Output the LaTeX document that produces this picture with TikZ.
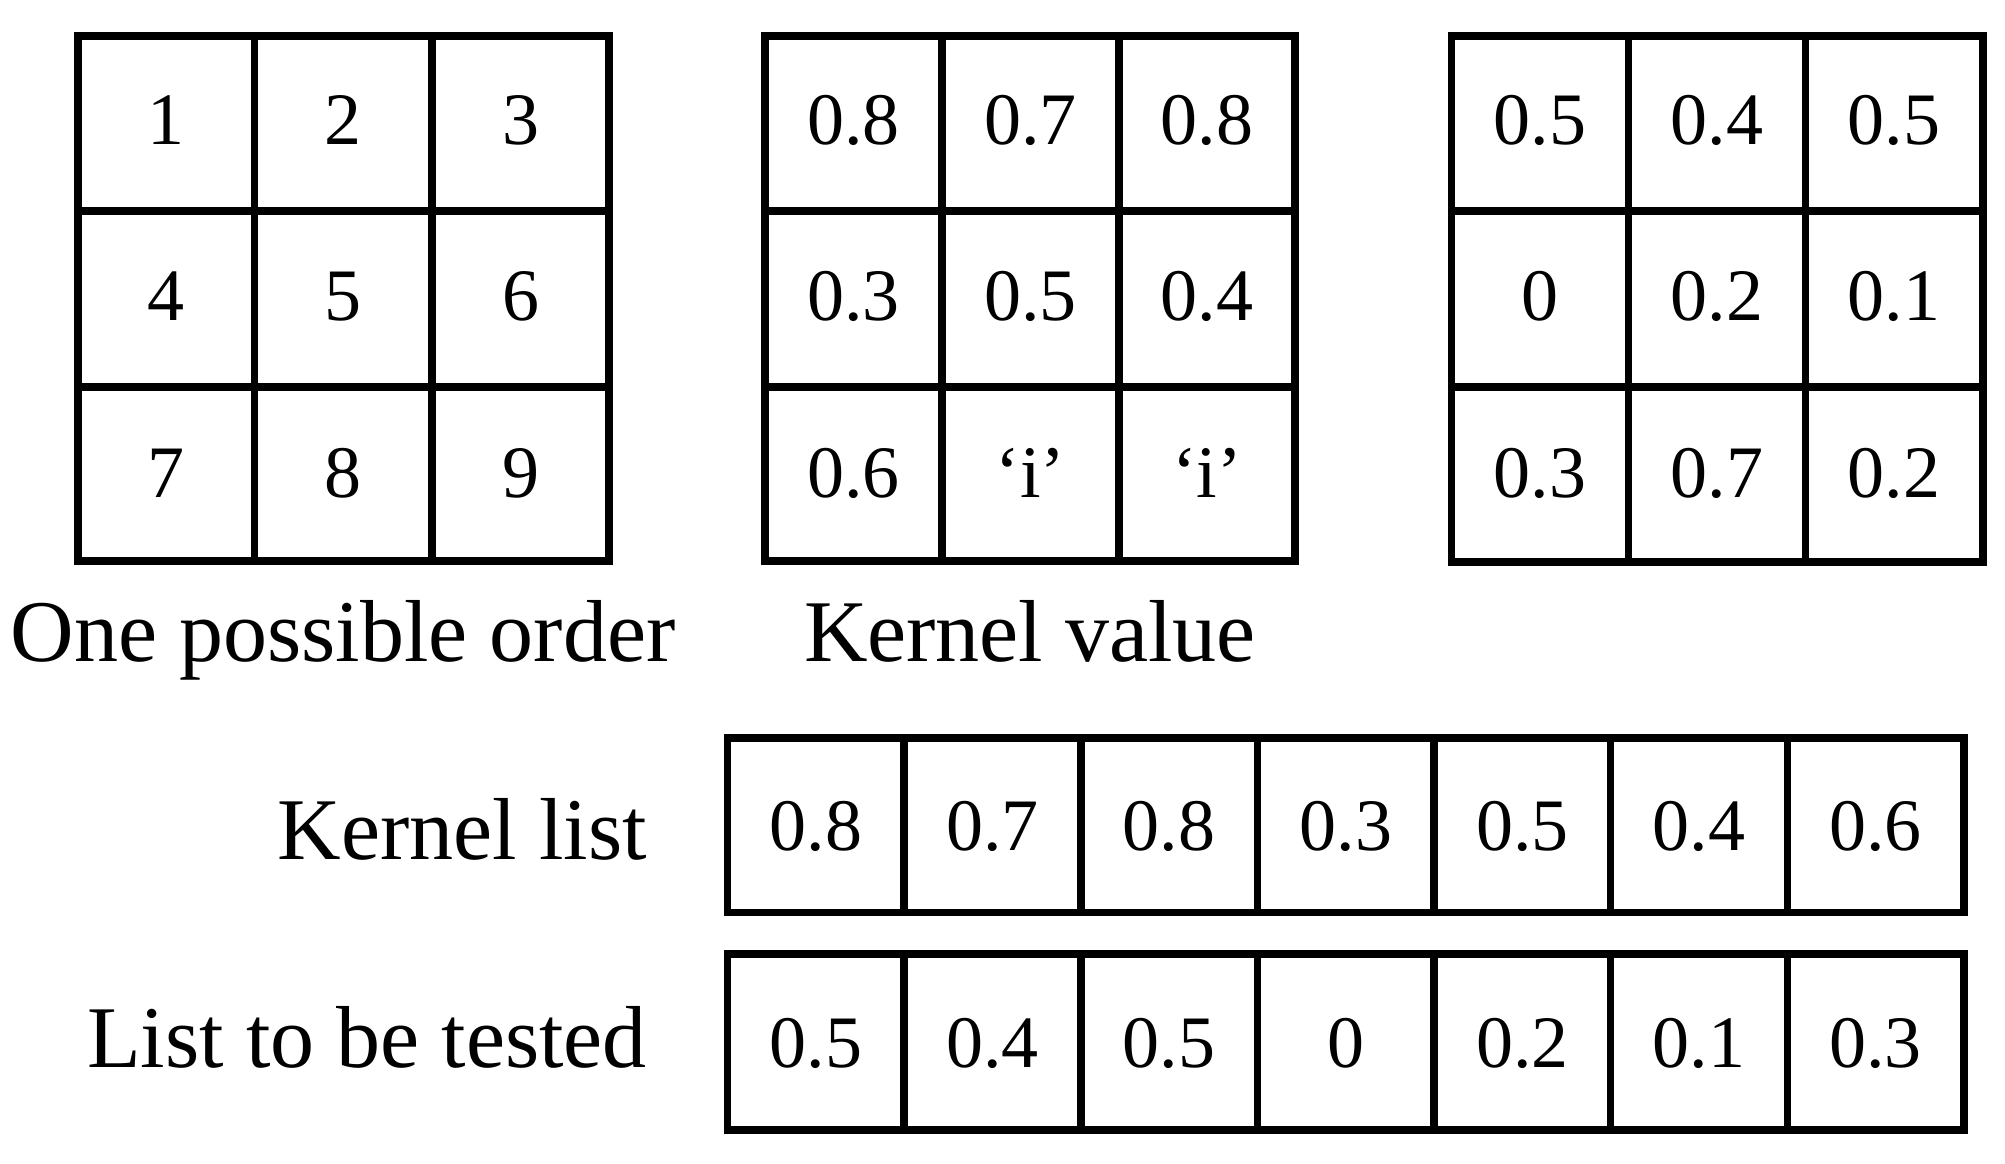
\documentclass[tikz,border=0pt]{standalone}
\usepackage{fontspec}
\setmainfont{Liberation Serif}
\begin{document}
\begin{tikzpicture}[x=1pt,y=-1pt,
  gridline/.style={line width=7.5pt, line cap=rect, line join=miter},
  num/.style={anchor=base, font=\fontsize{74}{80}\selectfont, inner sep=0pt},
  lbl/.style={font=\fontsize{88}{96}\selectfont, inner sep=0pt}]
\useasboundingbox (0,0) rectangle (2005,1164);

% ---------- 3x3 grids ----------
% grid 1
\draw[gridline] (78,36) rectangle (609,561);
\draw[gridline] (254.5,36) -- (254.5,561) (432,36) -- (432,561)
                (78,211) -- (609,211) (78,387) -- (609,387);
% grid 2
\draw[gridline] (765,36) rectangle (1295,561);
\draw[gridline] (942,36) -- (942,561) (1119,36) -- (1119,561)
                (765,211) -- (1295,211) (765,387) -- (1295,387);
% grid 3
\draw[gridline] (1451.5,36) rectangle (1983,562);
\draw[gridline] (1628.6,36) -- (1628.6,562) (1805.6,36) -- (1805.6,562)
                (1451.5,211) -- (1983,211) (1451.5,387) -- (1983,387);

% grid 1 contents
\node[num] (a11) at (166,144.5) {1};
\node[num] (a12) at (343,144.5) {2};
\node[num] (a13) at (520.5,144.5) {3};
\node[num] (a21) at (166,320.5) {4};
\node[num] (a22) at (343,320.5) {5};
\node[num] (a23) at (520.5,320.5) {6};
\node[num] (a31) at (166,497) {7};
\node[num] (a32) at (343,497) {8};
\node[num] (a33) at (520.5,497) {9};

% grid 2 contents
\node[num] (b11) at (853.5,144.5) {0.8};
\node[num] (b12) at (1030.5,144.5) {0.7};
\node[num] (b13) at (1207,144.5) {0.8};
\node[num] (b21) at (853.5,320.5) {0.3};
\node[num] (b22) at (1030.5,320.5) {0.5};
\node[num] (b23) at (1207,320.5) {0.4};
\node[num] (b31) at (853.5,497) {0.6};
\node[num] (b32) at (1030.5,497) {‘i’};
\node[num] (b33) at (1207,497) {‘i’};

% grid 3 contents
\node[num] (c11) at (1540,144.5) {0.5};
\node[num] (c12) at (1717,144.5) {0.4};
\node[num] (c13) at (1894,144.5) {0.5};
\node[num] (c21) at (1540,320.5) {0};
\node[num] (c22) at (1717,320.5) {0.2};
\node[num] (c23) at (1894,320.5) {0.1};
\node[num] (c31) at (1540,497) {0.3};
\node[num] (c32) at (1717,497) {0.7};
\node[num] (c33) at (1894,497) {0.2};

% labels under grids
\node[lbl, anchor=base] (lab1) at (343,661) {One possible order};
\node[lbl, anchor=base] (lab2) at (1030,661) {Kernel value};

% ---------- lists ----------
\draw[gridline] (727.5,738) rectangle (1964,912.5);
\draw[gridline] (727.5,954) rectangle (1964,1130);
\foreach \k in {1,...,6}{
  \draw[gridline] ({727.5+176.64*\k},738) -- ({727.5+176.64*\k},912.5);
  \draw[gridline] ({727.5+176.64*\k},954) -- ({727.5+176.64*\k},1130);
}
\foreach \v [count=\k from 0] in {0.8,0.7,0.8,0.3,0.5,0.4,0.6}{
  \node[num] (k\k) at ({727.5+88.32+176.64*\k},850) {\v};
}
\foreach \v [count=\k from 0] in {0.5,0.4,0.5,0,0.2,0.1,0.3}{
  \node[num] (t\k) at ({727.5+88.32+176.64*\k},1067) {\v};
}

\node[lbl, anchor=base east] (lab3) at (647,859) {Kernel list};
\node[lbl, anchor=base east] (lab4) at (647,1067) {List to be tested};
\end{tikzpicture}
\end{document}
